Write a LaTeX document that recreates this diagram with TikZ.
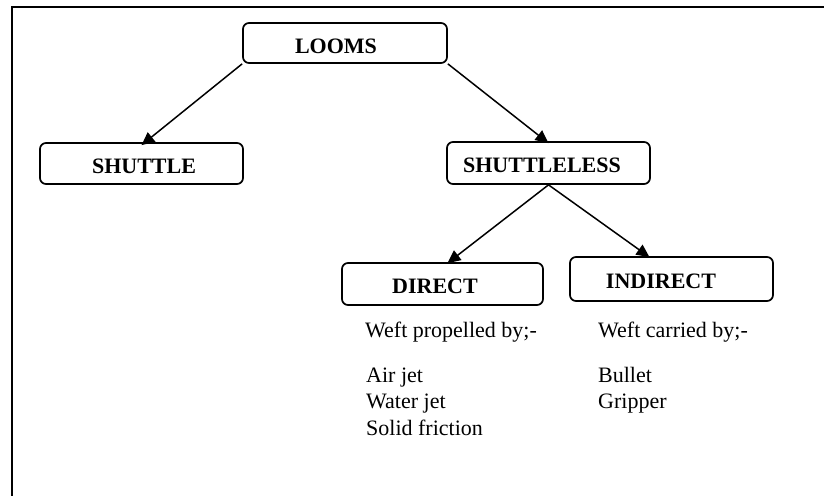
\documentclass[tikz,border=0pt]{standalone}
\usepackage{fontspec}
\setmainfont{Liberation Serif}
\usetikzlibrary{arrows.meta}
\begin{document}
\begin{tikzpicture}[x=1pt,y=-1pt,
  box/.style={draw, line width=1.7pt, rounded corners=6pt, inner sep=0pt},
  title/.style={font=\fontsize{22}{26}\selectfont\bfseries, inner sep=0pt, anchor=base},
  note/.style={font=\fontsize{22}{26}\selectfont, inner sep=0pt, anchor=base west},
  link/.style={line width=1.5pt, -{Triangle[length=13pt,width=12pt]}}]
\useasboundingbox (0,0) rectangle (824,495);

% outer frame (open towards the right and bottom edges)
\draw[line width=2.8pt] (826,7) -- (12,7) -- (12,497);

% boxes
\node[box, minimum width=204pt, minimum height=40pt] (looms) at (345,43) {};
\node[box, minimum width=203pt, minimum height=41pt] (shuttle) at (141.5,163.5) {};
\node[box, minimum width=203pt, minimum height=42pt] (shuttleless) at (548.5,163) {};
\node[box, minimum width=201pt, minimum height=42pt] (direct) at (442.5,284) {};
\node[box, minimum width=203pt, minimum height=44pt] (indirect) at (671.5,279) {};

% box titles
\node[title] (loomsT) at (336,53) {LOOMS};
\node[title] (shuttleT) at (144,173) {SHUTTLE};
\node[title] (shuttlelessT) at (542,172.5) {SHUTTLELESS};
\node[title] (directT) at (435,293) {DIRECT};
\node[title] (indirectT) at (661,288) {INDIRECT};

% connectors
\draw[link] (looms.south west) -- ([yshift=-3pt]shuttle.north);
\draw[link] (looms.south east) -- ([yshift=-2pt]shuttleless.north);
\draw[link] (shuttleless.south) -- ([xshift=5pt,yshift=-1pt]direct.north);
\draw[link] (shuttleless.south) -- ([xshift=-22pt,yshift=-1pt]indirect.north);

% notes under the shuttleless branches
\node[note] (dHead) at (365,337) {Weft propelled by;-};
\node[note] (dAir) at (366,382) {Air jet};
\node[note] (dWater) at (366,408) {Water jet};
\node[note] (dSolid) at (366,435) {Solid friction};

\node[note] (iHead) at (598,337) {Weft carried by;-};
\node[note] (iBullet) at (598,382) {Bullet};
\node[note] (iGripper) at (598,408) {Gripper};
\end{tikzpicture}
\end{document}
